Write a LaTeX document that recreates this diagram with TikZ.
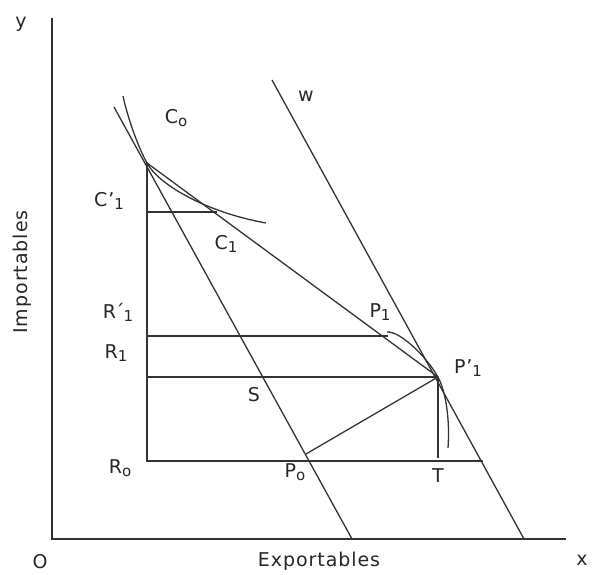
\documentclass[tikz,border=0pt]{standalone}
\usepackage{fontspec}
\newfontfamily\lblfont[LetterSpace=5]{DejaVu Sans}
\newcommand{\sbs}[1]{\raisebox{-0.3ex}{\fontsize{15}{16}\selectfont #1}}
\begin{document}
\begin{tikzpicture}[x=1pt,y=-1pt,
  ln/.style={line width=1.3pt, draw=black!80},
  lbl/.style={font=\lblfont\fontsize{19}{22}\selectfont, text=black!85, inner sep=0pt}]
\useasboundingbox (0,0) rectangle (603,574);
% coordinates
\coordinate (O) at (52,539);
\coordinate (Ytop) at (52,18);
\coordinate (Xend) at (566,539);
\coordinate (L1a) at (114,107);
\coordinate (L1b) at (352,539);
\coordinate (Wa) at (272,80);
\coordinate (Wb) at (524,539);
\coordinate (Tg) at (147,163);
\coordinate (Pp1) at (438,377);
\coordinate (Vb) at (147,461);
\coordinate (R0e) at (483,461);
\coordinate (R1s) at (147,377);
\coordinate (Rp1s) at (147,336);
\coordinate (Rp1e) at (388,336);
\coordinate (Cp1s) at (147,212);
\coordinate (C1pt) at (217,212);
\coordinate (Tb) at (438,458);
\coordinate (P0pt) at (306,454);
% axes
\draw[ln] (Ytop) -- (O) -- (Xend);
% price lines
\draw[ln] (L1a) -- (L1b);
\draw[ln] (Wa) -- (Wb);
\draw[ln] (Tg) -- (Pp1);
% verticals and horizontals
\draw[ln] (Tg) -- (Vb) -- (R0e);
\draw[ln] (R1s) -- (Pp1);
\draw[ln] (Rp1s) -- (Rp1e);
\draw[ln] (Cp1s) -- (C1pt);
\draw[ln] (Pp1) -- (Tb);
\draw[ln] (P0pt) -- (Pp1);
% indifference curve
\draw[ln] (123,96) .. controls (127,115) and (137,145) .. (Tg)
  .. controls (158,184) and (205,212) .. (266,223);
% production possibility curve
\draw[ln] (387,332) .. controls (400,331) and (426,356) .. (Pp1)
  .. controls (446,392) and (450,420) .. (448,448);
% labels
\node[lbl] (ly) at (21,24) {y};
\node[lbl] (lw) at (306,96) {w};
\node[lbl] (lC0) at (176,118) {C\sbs{o}};
\node[lbl] (lCp1) at (109,201) {C’\sbs{1}};
\node[lbl] (lC1) at (226,244) {C\sbs{1}};
\node[lbl] (lRp1) at (118,312) {R\kern-1pt´\kern-1pt\sbs{1}};
\node[lbl] (lR1) at (116,353) {R\sbs{1}};
\node[lbl] (lS) at (254,395) {S};
\node[lbl] (lR0) at (120,468) {R\sbs{o}};
\node[lbl] (lP0) at (295,472) {P\sbs{o}};
\node[lbl] (lT) at (438,476) {T};
\node[lbl] (lP1) at (380,312) {P\sbs{1}};
\node[lbl] (lPp1) at (468,368) {P’\sbs{1}};
\node[lbl] (lO) at (40,562) {O};
\node[lbl] (lx) at (582,560) {x};
\node[lbl] (lEx) at (319,561) {Exportables};
\node[lbl, rotate=90] (lIm) at (22,272) {Importables};
\end{tikzpicture}
\end{document}
